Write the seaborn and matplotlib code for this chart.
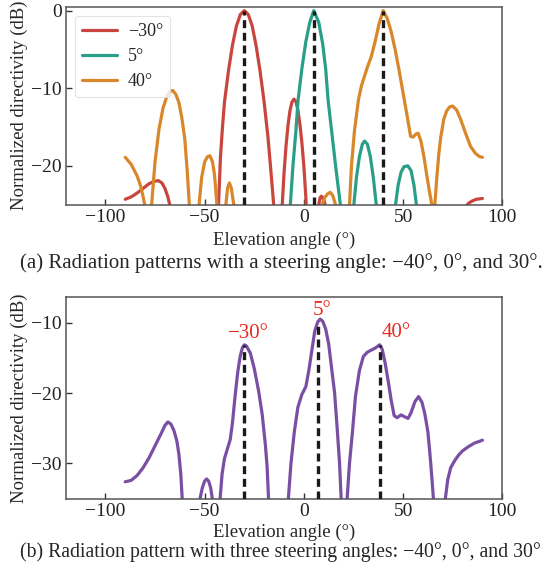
import numpy as np
import pandas as pd
import matplotlib
matplotlib.use("Agg")
import matplotlib.pyplot as plt
import seaborn as sns

# ---------------- data ----------------
red_x = [-90, -87, -84, -81, -78, -75.5, -73.3, -71.5, -70, -68.5, -67.4, -66.5, -65.5, -64,
         -58, -52, -46, -44, -43, -42, -41, -40, -38, -36, -34, -32, -30, -28, -26, -24, -22,
         -20, -18, -16, -15.2, -14.5, -13.5, -12.5, -11, -10, -9, -8, -7, -6, -5, -4, -3, -2,
         -1, 0, 1, 1.5, 3, 5, 7, 7.5, 8.2, 8.8, 9.5, 10.3, 10.9, 11.5, 13, 20, 30, 40, 50,
         60, 70, 78, 80.5, 81.5, 83, 85, 87, 90]
red_y = [-24.3, -24.0, -23.5, -22.9, -22.3, -22.0, -21.9, -22.2, -22.9, -24.0, -25.2, -27, -31, -40,
         -38, -42, -34, -32, -25, -18.8, -15.0, -11.8, -7.8, -4.5, -2.0, -0.5, 0, -0.5, -2.0, -4.6, -7.9,
         -11.8, -16.5, -22.5, -25, -29, -40, -32, -25.5, -21, -17.5, -14.8, -12.9, -11.8, -11.4, -11.7, -12.8, -14.6,
         -17, -20, -24, -27, -40, -36, -26.5, -25, -24.1, -23.9, -24.1, -24.6, -25.2, -28, -40, -36, -40, -35, -40,
         -35, -40, -32, -26.5, -25.3, -24.8, -24.5, -24.3, -24.2]

teal_x = [-90, -70, -50, -30, -15, -10, -8.5, -7.5, -6.8, -5.5, -4, -2.9, -1, 1, 3, 5, 7.5, 9.5,
          11, 12.2, 14, 16, 18.4, 19, 20.5, 22.5, 24.5, 25.2, 26.5, 28, 29.5, 30.6, 32, 33.5, 35,
          36.5, 37.5, 40, 43, 45.3, 46.2, 47.5, 49, 50.5, 52.4, 54, 55.5, 56.7, 57.5, 60, 70, 80, 90]
teal_y = [-40, -36, -40, -36, -40, -36, -40, -30, -25, -20, -15.5, -11.5, -7.5, -4, -1.5, 0, -1.5, -4.3,
          -7.5, -11.5, -15.5, -20, -25, -28, -40, -33, -27, -25, -21.5, -18.8, -17.2, -16.8, -17.2, -18.8, -21.5,
          -25, -28, -40, -33, -28, -25, -22.5, -20.8, -20.1, -20, -20.6, -22.5, -25, -28, -40, -36, -40, -36]

orange_x = [-90, -87, -84, -82, -80, -79, -78.3, -77.5, -76.7, -75, -73, -71, -69, -67.5, -66, -64.5,
            -63, -61.5, -60, -58.8, -57.7, -57, -55.5, -54, -52.8, -51.5, -50, -48.5, -47.3, -46, -45,
            -43.8, -43, -41.5, -40, -39.3, -38.4, -37.5, -36.6, -35.3, -34.5, -32, -20, -5, 5, 8, 9.2,
            10.5, 12, 13.3, 14.5, 15.4, 15.9, 17, 19.5, 22, 23, 24, 25.5, 27.5, 29, 30.5, 32, 34, 36,
            38, 40, 42, 44, 46, 48, 50, 52, 53.8, 55, 56.5, 57.6, 59, 60.5, 62, 63.5, 64.5, 65.2, 66,
            67, 68, 69, 70.5, 72, 73.5, 75, 77, 79, 81.5, 84, 86.5, 88.5, 90]
orange_y = [-18.9, -19.8, -21.3, -22.8, -25.2, -28.5, -40, -30, -25, -19.5, -15.3, -12.6, -11.0, -10.4, -10.3, -10.8,
            -11.8, -13.8, -16.5, -20.5, -25, -30, -40, -30, -25, -21.5, -19.5, -18.8, -18.7, -19.5, -21.2,
            -25, -30, -40, -30, -25, -22.8, -22.2, -22.8, -25, -30, -40, -36, -40, -36, -30, -25,
            -24.1, -23.6, -23.4, -23.8, -24.5, -25, -30, -40, -31, -25, -20, -15.5, -11.5, -9.7, -8.5, -7.3, -5.9, -3.9,
            -1.6, 0, -1.0, -2.7, -5.0, -7.7, -10.6, -13.5, -16.2, -16.3, -15.9, -15.8, -16.8, -18.8, -21.3, -23.6, -25, -35, -25,
            -21.5, -18.5, -16.3, -14, -12.9, -12.4, -12.3, -12.8, -14, -15.8, -17.5, -18.4, -18.8, -18.9]

purple_x = [-90, -87, -84, -81, -78, -75, -72, -70, -68.5, -67, -65.5, -64, -63, -62, -61.3, -59.5,
            -57, -54, -52.3, -51.2, -50, -49, -48, -47, -46.1, -45, -44, -43, -42.2, -41.2, -40, -38.5,
            -37.1, -36, -34.6, -33.3, -32.1, -31, -30, -29, -27, -25, -22.8, -21, -19.4, -18.5, -17.8,
            -16.5, -13, -9, -7.8, -6.5, -4.8, -3, -1, 1, 2.5, 4, 5.5, 7, 8.2, 9.5, 11, 12.5, 14, 15.5,
            16.8, 18, 18.8, 19.7, 20.3, 21, 21.8, 23, 24.5, 26, 28, 30, 32, 34, 36, 38.2, 39.5, 41, 42.5,
            44, 45.5, 47, 49, 51, 52.5, 54, 56, 57.8, 59.5, 61, 62.5, 63.5, 64.5, 65.3, 66.5, 68, 70,
            71.3, 72.5, 74, 76, 78, 80, 83, 86, 88, 90]
purple_y = [-32.6, -32.4, -31.7, -30.6, -29.2, -27.5, -25.8, -24.6, -24.1, -24.4, -25.3, -26.8, -28.6, -31.5, -35, -45,
            -50, -45, -35, -33.5, -32.5, -32.2, -32.5, -33.4, -35, -42, -50, -42, -35, -31.5, -29.3, -27.9,
            -26.6, -24.3, -20.3, -17, -14.8, -13.6, -13.15, -13.3, -14.3, -16.5, -19.7, -23, -27.3, -30.5, -35,
            -45, -50, -45, -35, -30, -25.5, -22, -20.2, -19.1, -16.8, -14, -11.2, -9.9, -9.5, -9.8, -10.9, -13, -16.5, -20,
            -25, -30, -35, -45, -50, -45, -35, -30, -25.5, -20.5, -16.8, -14.8, -14.2, -13.9, -13.6, -13.15, -13.8, -15.8, -18.3,
            -21, -23.2, -23.5, -23.1, -23.4, -23.6, -22.8, -21.2, -20.5, -21.3, -23, -25.5, -28.5, -32, -35, -45, -50, -45,
            -35, -32.3, -30.6, -29.6, -28.8, -28.2, -27.6, -27.1, -26.9, -26.7]

series_labels = ["\u221230\u00b0", "5\u00b0", "40\u00b0"]
top_steer = [-30, 5, 40]
bottom_steer = [-30, 7, 38.2]
bottom_peaks = [-13.15, -9.9, -13.15]
bottom_texts = ["\u221230\u00b0", "5\u00b0", "40\u00b0"]
bottom_text_x = [-28, 9, 46.5]
bottom_text_y = [-11.5, -8.3, -11.4]

x_ticks = [-100, -50, 0, 50, 100]
top_yticks = [0, -10, -20]
bot_yticks = [-10, -20, -30]

caption_a = "(a) Radiation patterns with a steering angle: \u221240\u00b0, 0\u00b0, and 30\u00b0."
caption_b = "(b) Radiation pattern with three steering angles: \u221240\u00b0, 0\u00b0, and 30\u00b0"

colors = ["#C8463E", "#2A9F88", "#D8872B"]
purple = "#7A4FA3"

# ---------------- style ----------------
sns.set_theme(style="ticks")
plt.rcParams["font.family"] = ["Liberation Serif", "DejaVu Serif"]
plt.rcParams["mathtext.fontset"] = "stix"
plt.rcParams["axes.edgecolor"] = "#555555"
plt.rcParams["axes.linewidth"] = 1.1
plt.rcParams["xtick.direction"] = "in"
plt.rcParams["ytick.direction"] = "in"
plt.rcParams["xtick.color"] = "#333333"
plt.rcParams["ytick.color"] = "#333333"
plt.rcParams["xtick.labelcolor"] = "#222222"
plt.rcParams["ytick.labelcolor"] = "#222222"

FS_TICK = 14
FS_LAB = 13.5
FS_CAP_A = 15
FS_CAP_B = 14.2
FS_LEG = 13

fig = plt.figure(figsize=(5.48, 5.74), dpi=100)
ax1 = fig.add_axes([0.1199, 0.6434, 0.7967, 0.3449])
ax2 = fig.add_axes([0.1199, 0.1312, 0.7967, 0.3509])

df_top = pd.concat([
    pd.DataFrame({"angle": red_x, "dir": red_y, "steer": series_labels[0]}),
    pd.DataFrame({"angle": teal_x, "dir": teal_y, "steer": series_labels[1]}),
    pd.DataFrame({"angle": orange_x, "dir": orange_y, "steer": series_labels[2]}),
], ignore_index=True)

sns.lineplot(data=df_top, x="angle", y="dir", hue="steer", hue_order=series_labels,
             palette=colors, estimator=None, sort=False, linewidth=2.3, ax=ax1)
ax1.vlines(top_steer, -25, 0, colors="#1a1a1a", linestyles=(0, (2.4, 1.4)), linewidth=2.4, zorder=5)

ax1.set_xlim(-120, 100)
ax1.set_ylim(-25, 0.5)
ax1.set_xticks(x_ticks)
ax1.set_yticks(top_yticks)
ax1.tick_params(labelsize=FS_TICK, length=4, width=1, top=False, right=False, pad=3)
ax1.set_xlabel("Elevation angle (\u00b0)", fontsize=FS_LAB, labelpad=4)
ax1.set_ylabel("Normalized directivity (dB)", fontsize=FS_LAB, labelpad=2)
leg = ax1.legend(loc="upper left", fontsize=FS_LEG, frameon=True, handlelength=1.95,
                 borderaxespad=0.5, labelspacing=0.45, handletextpad=0.6)
leg.get_frame().set_edgecolor("#dddddd")
leg.get_frame().set_linewidth(0.8)
for h in leg.get_lines():
    h.set_linewidth(2.3)

df_bot = pd.DataFrame({"angle": purple_x, "dir": purple_y})
sns.lineplot(data=df_bot, x="angle", y="dir", color=purple, estimator=None, sort=False,
             linewidth=2.3, ax=ax2)
ax2.vlines(bottom_steer, -35, bottom_peaks, colors="#1a1a1a", linestyles=(0, (2.4, 1.4)),
           linewidth=2.4, zorder=5)
for tx, ty, t in zip(bottom_text_x, bottom_text_y, bottom_texts):
    ax2.text(tx, ty, t, color="#E8281E", fontsize=15, ha="center", va="center")

ax2.set_xlim(-120, 100)
ax2.set_ylim(-35, -6.4)
ax2.set_xticks(x_ticks)
ax2.set_yticks(bot_yticks)
ax2.tick_params(labelsize=FS_TICK, length=4, width=1, top=False, right=False, pad=3)
ax2.set_xlabel("Elevation angle (\u00b0)", fontsize=FS_LAB, labelpad=3)
ax2.set_ylabel("Normalized directivity (dB)", fontsize=FS_LAB, labelpad=2)

fig.text(0.514, 0.5418, caption_a, ha="center", va="center", fontsize=FS_CAP_A)
fig.text(0.512, 0.0383, caption_b, ha="center", va="center", fontsize=FS_CAP_B)

fig.savefig("out.png", dpi=100)
